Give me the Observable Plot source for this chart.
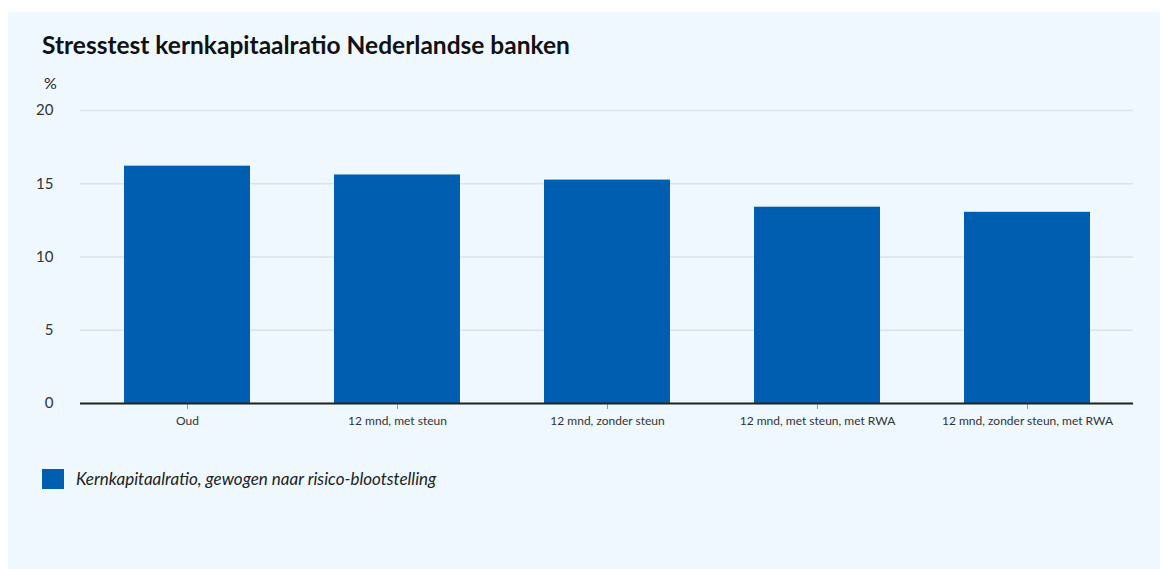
<!DOCTYPE html>
<html>
<head>
<meta charset="utf-8">
<script src="https://cdn.jsdelivr.net/npm/d3@7"></script>
<script src="https://cdn.jsdelivr.net/npm/@observablehq/plot@0.6"></script>
<style>
  body { margin: 0; background: #ffffff; width: 1167px; height: 569px; overflow: hidden; font-family: Lato, "Noto Sans", sans-serif; }
  #panel { position: absolute; left: 8px; top: 12px; width: 1152px; height: 557px; background: #eef8fe; }
  #title { position: absolute; left: 34px; top: 18px; font-size: 24.5px; font-weight: 700; color: #111; }
  #chart { position: absolute; left: 0; top: 58px; }
  #legend { position: absolute; left: 34px; top: 456px; display: flex; align-items: center; }
  #legend .sw { width: 22px; height: 20px; background: #005eb0; }
  #legend .lb { margin-left: 12px; font-size: 17px; font-style: italic; color: #222; }
</style>
</head>
<body>
<div id="panel">
  <div id="title">Stresstest kernkapitaalratio Nederlandse banken</div>
  <div id="chart"></div>
  <div id="legend"><div class="sw"></div><div class="lb" id="legendLabel"></div></div>
</div>
<script>
const categories = ["Oud", "12 mnd, met steun", "12 mnd, zonder steun", "12 mnd, met steun, met RWA", "12 mnd, zonder steun, met RWA"];
const values = [16.2, 15.6, 15.25, 13.4, 13.05];
const yTicks = [0, 5, 10, 15, 20];
const seriesName = "Kernkapitaalratio, gewogen naar risico-blootstelling";
const unitLabel = "%";

const data = categories.map((c, i) => ({category: c, value: values[i]}));
document.getElementById("legendLabel").textContent = seriesName;

const chart = Plot.plot({
  width: 1152,
  height: 368,
  marginLeft: 72,
  marginRight: 27,
  marginTop: 40,
  marginBottom: 35,
  style: { background: "transparent", fontFamily: "Lato, 'Noto Sans', sans-serif", overflow: "visible" },
  x: { domain: categories, paddingInner: 0.4, paddingOuter: 0.2, label: null },
  y: { domain: [0, 20], label: null },
  marks: [
    Plot.gridY(yTicks, { stroke: "#d9e3ec", strokeOpacity: 1, strokeWidth: 1.5 }),
    Plot.axisY(yTicks, { tickSize: 0, tickPadding: 27, fontSize: 15, fill: "#333", label: null }),
    Plot.axisX({ tickSize: 6, tickPadding: 7, fontSize: 12, fill: "#333", stroke: "#999", label: null }),
    Plot.barY(data, { x: "category", y: "value", fill: "#005eb0" }),
    Plot.ruleY([0], { stroke: "#222", strokeWidth: 2 }),
    Plot.text([unitLabel], { frameAnchor: "top-left", dx: -30, dy: -33, fontSize: 16, fill: "#222", textAnchor: "middle" })
  ]
});
document.getElementById("chart").appendChild(chart);
</script>
</body>
</html>
